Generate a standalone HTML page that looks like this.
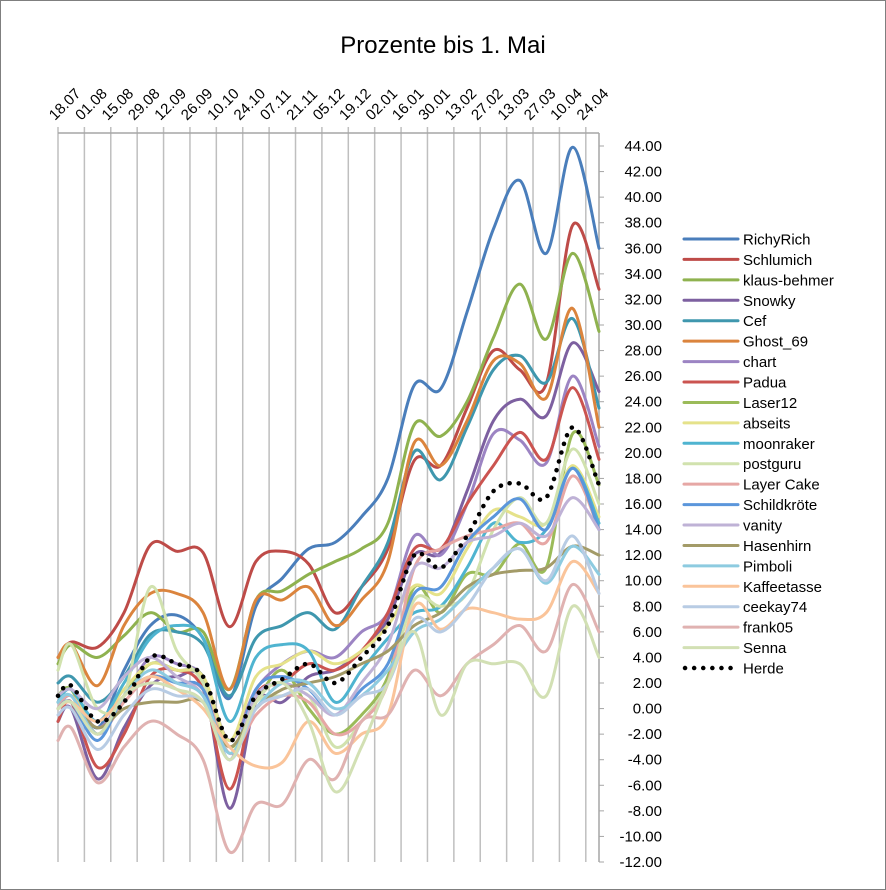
<!DOCTYPE html>
<html><head><meta charset="utf-8"><style>
html,body{margin:0;padding:0;background:#fff}
svg{display:block;font-family:"Liberation Sans",Arial,sans-serif}
</style></head><body>
<svg id="chart" width="886" height="890" viewBox="0 0 886 890">
<rect x="0.5" y="0.5" width="885" height="889" fill="#fff" stroke="#7f7f7f"/>
<text x="443" y="53" text-anchor="middle" font-size="24" fill="#000">Prozente bis 1. Mai</text>
<g id="grid"></g><g id="axes"></g><g id="series"></g><g id="legend"></g>
</svg>
<script>
const categories = ["18.07","01.08","15.08","29.08","12.09","26.09","10.10","24.10","07.11","21.11","05.12","19.12","02.01","16.01","30.01","13.02","27.02","13.03","27.03","10.04","24.04"];
const weekIndex = [0,1,3,5,7,9,11,13,15,17,19,21,23,25,27,29,31,33,35,37,39,41];
const yTicks = [44,42,40,38,36,34,32,30,28,26,24,22,20,18,16,14,12,10,8,6,4,2,0,-2,-4,-6,-8,-10,-12];
const seriesNames = ["RichyRich","Schlumich","klaus-behmer","Snowky","Cef","Ghost_69","chart","Padua","Laser12","abseits","moonraker","postguru","Layer Cake","Schildkröte","vanity","Hasenhirn","Pimboli","Kaffeetasse","ceekay74","frank05","Senna","Herde"];
const seriesColors = ["#4A7EBB","#BE4B48","#8FB24F","#7D60A0","#3F97AE","#DB843D","#9C84C3","#CB5450","#9BBB59","#E5E28A","#4FB4D0","#D1E2AE","#E6A7A5","#5B96DB","#BFB2D6","#A39B68","#8DCBE0","#FAC49A","#B8CCE4","#E0B2B1","#D2E0B4","#000000"];
const vRichyRich   = [0.5,1.5,-1.5,3,6.5,7.3,5.5,0.8,8,10.2,12.5,13,15,18,25.3,25,31,37.5,41.3,35.6,43.9,36];
const vSchlumich   = [4,5.2,4.8,7.5,12.8,12.3,12.2,6.4,11.5,12.3,11.3,7.5,9.5,12.5,19.4,19,23.5,28,26.5,25.4,37.8,32.8];
const vKlaus       = [3.5,5,4,5.7,7.5,6,6,1.5,8.5,9.2,10.5,11.5,12.5,14.5,22.2,21.3,24,29,33.2,28.9,35.6,29.5];
const vSnowky      = [-1,0,-5.5,-1.5,1.8,2.5,2,-7.8,0.5,0.5,2.5,3,4.5,7,12,12.2,17,22.5,24.2,22.9,28.6,24.8];
const vCef         = [2,2.5,0.5,2.5,5.8,6,5,1,5.5,6.5,7.5,6.2,9.5,13,20.1,17.9,22,26.5,27.6,25.5,30.5,23.5];
const vGhost       = [4,5,1.8,6.5,9,9,7.5,1.5,8.5,8.5,9.5,6.5,8.5,11.5,20.8,19,22.5,27.2,27,24.3,31.3,22];
const vChart       = [0,1,-1.5,1,4,3.5,2.5,-2.5,1.5,3.5,4.5,4,6,7.5,13.5,12,16,21.5,21,19.2,26,20.5];
const vPadua       = [-1,0.5,-4.6,-2,2.5,3,1.5,-6.3,1,2,3.5,3,4.5,7.5,12.5,12.5,16,19,21.6,19.5,25.1,19.5];
const vLaser12     = [1,1.5,-2,1,3.5,3,2.5,-3,0.5,3,0,-2,-0.5,2.5,9.5,7.5,10.5,10.5,12.9,11,21.5,17.5];
const vAbseits     = [0.5,1,-1,1.5,3.5,3,2.5,-2.5,2.5,3.5,4.5,3.5,4.5,6.5,9.6,9,12.5,15.5,15,14.5,19,15];
const vMoonraker   = [0.5,1.5,-1,2,5.5,6.5,5.5,-1,4,5,4.5,0.5,3,5.5,7.5,8,11,14.5,13,14,18.8,14.5];
const vPostguru    = [3,5,0,1,9.5,4.5,2,-3.5,0.5,1,1,-3,-1,2,8.5,8,9,14,16.5,14.5,20.3,16];
const vLayerCake   = [0,1,-2,0.5,2.5,2,1.5,-3.5,-0.5,1,0.5,-2,-1,2,11,12.5,13.5,14,14.5,13,18.2,14];
const vSchild      = [0,0.5,-2.5,1,2.5,2,1.5,-4,1.5,2.5,1.5,-0.5,1.5,3.5,9,9.5,13,15,16.4,14,18.8,14];
const vVanity      = [1,1.5,0,2.5,4,2.5,1,-4,1,2,1,-0.5,2,5,11,11,13,13.5,14.5,13.5,16.5,14];
const vHasenhirn   = [0,0.5,-1.5,0,0.5,0.5,0.5,-3,0,1.5,2,2.5,3.5,4.5,6.5,7.5,9.5,10.5,10.8,11,12.7,12];
const vPimboli     = [0.5,1,-2,1,3,2,1,-3.5,0,2,2,0,1,3,6,7,9,11,12.5,9.8,12.7,10.5];
const vKaffee      = [0,0.5,-1,1,2.5,1.5,0,-3,-4.5,-4.2,-1,-3.5,-2,-0.5,8,6.2,7.8,7.5,7,7.5,11.5,9];
const vCeekay      = [-0.5,0,-3.2,-0.5,1.5,1,0.5,-4,0,1,1.5,-0.5,1,2,7,6,8,11,12.5,10,13.5,9];
const vFrank05     = [-2.5,-1.5,-5.8,-3,-1,-2,-4,-11.2,-7.5,-7.5,-4,-5.5,-1,-0.5,3,1,3.5,5,6.5,4.5,9.7,6];
const vSenna       = [0,0.5,-2,1,2,1.5,0.5,-4,0.5,2,-1,-6.5,-3,2,6,-0.5,3.5,3.5,3.5,1,8,4];
const vHerde       = [1,1.8,-1,0.5,4,3.5,2.5,-2.5,1,2.3,3.5,2,4,6.5,12,11,13.5,17,17.6,16.5,22,17.5];
const seriesValues = [vRichyRich,vSchlumich,vKlaus,vSnowky,vCef,vGhost,vChart,vPadua,vLaser12,vAbseits,vMoonraker,vPostguru,vLayerCake,vSchild,vVanity,vHasenhirn,vPimboli,vKaffee,vCeekay,vFrank05,vSenna,vHerde];

const NS="http://www.w3.org/2000/svg";
const X0=58,X1=599,Y0=133,Y1=862,NW=41,VMAX=44,VMIN=-12,YTOP=146;
function xScale(w){return X0+w*(X1-X0)/NW;}
function yScale(v){return YTOP+(VMAX-v)*(Y1-YTOP)/(VMAX-VMIN);}
function mk(tag,attrs,parent){const e=document.createElementNS(NS,tag);for(const k in attrs)e.setAttribute(k,attrs[k]);parent.appendChild(e);return e;}

const grid=document.getElementById('grid'),axes=document.getElementById('axes');
categories.forEach((c,i)=>{
  const gx=xScale(i*2);
  const gl=mk('line',{x1:gx,x2:gx,y1:Y0-6,y2:Y1,stroke:'#BFBFBF','stroke-width':1.5},grid);
  
  
  const t=mk('text',{x:gx-3,y:121,'font-size':15,fill:'#000',transform:'rotate(-45 '+(gx-3)+' 121)'},axes);
  t.textContent=c;
  
  
});
const xa=mk('line',{x1:X0,x2:X1,y1:Y0,y2:Y0,stroke:'#A6A6A6','stroke-width':1.5},axes);


const ya=mk('line',{x1:X1,x2:X1,y1:Y0,y2:Y1,stroke:'#A6A6A6','stroke-width':1.5},axes);


yTicks.forEach(v=>{
  const y=yScale(v);
  mk('line',{x1:X1,x2:X1+5,y1:y,y2:y,stroke:'#A6A6A6','stroke-width':1},axes);
  const t=mk('text',{x:662,y:y+5,'text-anchor':'end','font-size':15,fill:'#000'},axes);
  t.textContent=v.toFixed(2);
  
  
});

function smoothPath(pts){
  let d='M'+pts[0][0].toFixed(1)+','+pts[0][1].toFixed(1);
  for(let i=0;i<pts.length-1;i++){
    const p0=pts[Math.max(0,i-1)],p1=pts[i],p2=pts[i+1],p3=pts[Math.min(pts.length-1,i+2)];
    const c1x=p1[0]+(p2[0]-p0[0])/6,c1y=p1[1]+(p2[1]-p0[1])/6;
    const c2x=p2[0]-(p3[0]-p1[0])/6,c2y=p2[1]-(p3[1]-p1[1])/6;
    d+=' C'+c1x.toFixed(1)+','+c1y.toFixed(1)+' '+c2x.toFixed(1)+','+c2y.toFixed(1)+' '+p2[0].toFixed(1)+','+p2[1].toFixed(1);
  }
  return d;
}
const sg=document.getElementById('series'),lg=document.getElementById('legend');
seriesNames.forEach((name,s)=>{
  const vals=seriesValues[s];
  const pts=vals.map((v,i)=>[xScale(weekIndex[i]),yScale(v)]);
  const isHerde=name==='Herde';
  const attrs={d:smoothPath(pts),fill:'none',stroke:seriesColors[s],'stroke-width':isHerde?4.5:3,'stroke-linecap':'round','stroke-linejoin':'round'};
  if(isHerde){attrs['stroke-dasharray']='0.1 9';}
  const p=mk('path',attrs,sg);
  
  
  const ly=239+s*20.43;
  const g=mk('g',{},lg);
  
  
  const la={x1:684,x2:738,y1:ly,y2:ly,stroke:seriesColors[s],'stroke-width':isHerde?4.5:3,'stroke-linecap':'round'};
  if(isHerde){la['stroke-dasharray']='0.1 9';la.x1=685;}
  mk('line',la,g);
  const t=mk('text',{x:743,y:ly+5.5,'font-size':15,fill:'#000'},g);
  t.textContent=name;
});
</script>
</body></html>
